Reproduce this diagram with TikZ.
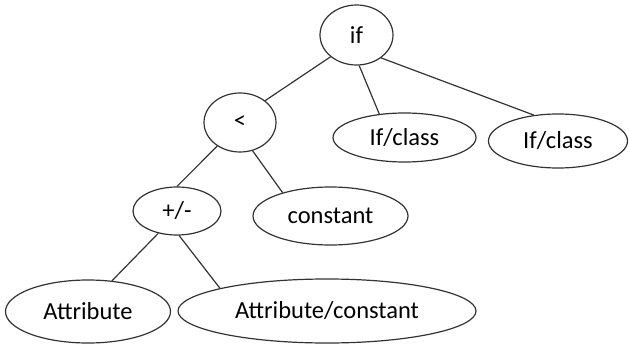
\documentclass[tikz,border=0pt]{standalone}
\usepackage{fontspec}
\setmainfont{Carlito}
\usetikzlibrary{shapes.geometric}
\begin{document}
\begin{tikzpicture}[x=1pt,y=-1pt,
  el/.style={ellipse,draw=black!80,line width=1.2pt,inner sep=0pt,font=\fontsize{24.5}{29}\selectfont},
  edge/.style={draw=black!80,line width=1.2pt}]
\useasboundingbox (0,0) rectangle (629,345);
\node[el,minimum width=73,minimum height=60] (if) at (356.5,35) {if};
\node[el,minimum width=72,minimum height=59] (lt) at (240,122.5) {<};
\node[el,minimum width=143,minimum height=49] (c1) at (404.5,137.5) {If/class};
\node[el,minimum width=139,minimum height=54] (c2) at (558,141) {If/class};
\node[el,minimum width=88,minimum height=48] (pm) at (177,211) {+/-};
\node[el,minimum width=155,minimum height=58] (k) at (330.5,216) {constant};
\node[el,minimum width=165,minimum height=63] (a) at (88,311.5) {Attribute};
\node[el,minimum width=298,minimum height=64] (ac) at (327,311) {Attribute/constant};
\draw[edge] (if.220) -- (lt.41);
\draw[edge] (if.275) -- (c1.137);
\draw[edge] (if.317) -- (c2.133);
\draw[edge] (lt.226) -- (pm.90);
\draw[edge] (lt.294) -- (k.154);
\draw[edge] (pm.230) -- (a.52);
\draw[edge] (pm.275) -- (ac.168);
\end{tikzpicture}
\end{document}
